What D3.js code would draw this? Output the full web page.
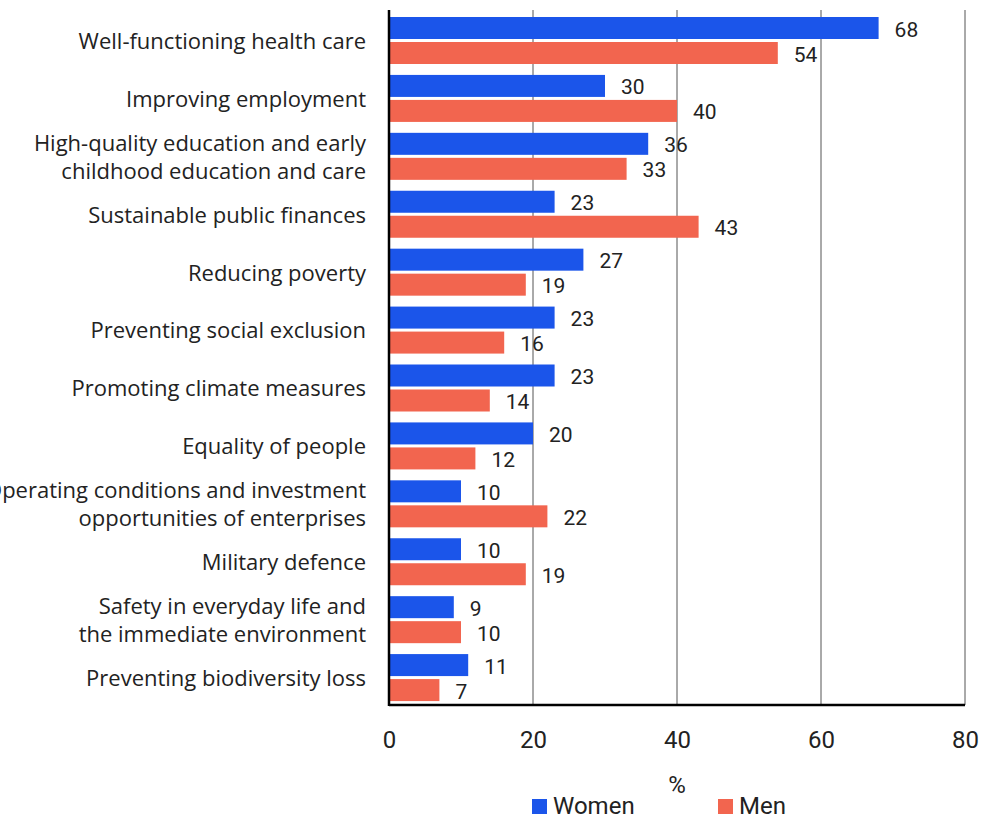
<!DOCTYPE html>
<html><head><meta charset="utf-8">
<script src="https://cdn.jsdelivr.net/npm/d3@7"></script>
<style>body{margin:0;background:#fff}svg{display:block}</style>
</head><body><div id="chart"></div>
<script>
const categories = [
  "Well-functioning health care",
  "Improving employment",
  "High-quality education and early|childhood education and care",
  "Sustainable public finances",
  "Reducing poverty",
  "Preventing social exclusion",
  "Promoting climate measures",
  "Equality of people",
  "Operating conditions and investment|opportunities of enterprises",
  "Military defence",
  "Safety in everyday life and|the immediate environment",
  "Preventing biodiversity loss"
];
const women = [68, 30, 36, 23, 27, 23, 23, 20, 10, 10, 9, 11];
const men   = [54, 40, 33, 43, 19, 16, 14, 12, 22, 19, 10, 7];
const seriesNames = ["Women", "Men"];
const colors = ["#1b55ea", "#f2654f"];
const xTicks = [0, 20, 40, 60, 80];

const W = 987, H = 820;
const m = {left: 389, right: 22, top: 10, bottom: 115};
const svg = d3.select("#chart").append("svg").attr("width", W).attr("height", H);
const font = "Roboto, 'Noto Sans', sans-serif";
const labelFont = "'Open Sans', Roboto, sans-serif";

const x = d3.scaleLinear().domain([0, 80]).range([m.left, W - m.right]);
const y = d3.scaleBand().domain(categories).range([m.top, H - m.bottom]).paddingInner(0).paddingOuter(0);
const sub = d3.scaleBand().domain(seriesNames).range([7, 54]).paddingInner(0.12).paddingOuter(0);

// gridlines
svg.append("g").selectAll("line").data(xTicks.filter(d => d > 0)).join("line")
  .attr("x1", d => x(d)).attr("x2", d => x(d))
  .attr("y1", m.top).attr("y2", H - m.bottom)
  .attr("stroke", "#555").attr("stroke-width", 1);

// bars
const data = [];
categories.forEach((c, i) => {
  data.push({c, s: "Women", v: women[i], col: colors[0]});
  data.push({c, s: "Men", v: men[i], col: colors[1]});
});
svg.append("g").selectAll("rect").data(data).join("rect")
  .attr("x", x(0)).attr("y", d => y(d.c) + sub(d.s))
  .attr("width", d => x(d.v) - x(0)).attr("height", sub.bandwidth())
  .attr("fill", d => d.col);

// value labels
svg.append("g").selectAll("text").data(data).join("text")
  .attr("x", d => x(d.v) + 16).attr("y", d => y(d.c) + sub(d.s) + sub.bandwidth() / 2 + 1)
  .attr("dy", "0.36em").attr("font-family", font).attr("font-size", 21).attr("fill", "#222")
  .text(d => d.v);

// category labels
const cl = svg.append("g").selectAll("text").data(categories).join("text")
  .attr("x", m.left - 23).attr("text-anchor", "end")
  .attr("font-family", labelFont).attr("font-size", 22).attr("fill", "#222");
cl.each(function(d) {
  const lines = d.split("|");
  const cy = y(d) + y.bandwidth() / 2 + 2;
  const t = d3.select(this);
  lines.forEach((ln, k) => {
    t.append("tspan").attr("x", m.left - 23)
      .attr("y", cy + (k - (lines.length - 1) / 2) * 28)
      .attr("dy", "0.36em").text(ln);
  });
});

// axes
const xAxis = d3.axisBottom(x).tickValues(xTicks).tickSize(0).tickPadding(26);
const ax = svg.append("g").attr("transform", `translate(0,${H - m.bottom})`).call(xAxis);
ax.select(".domain").remove();
ax.selectAll("text").attr("font-family", font).attr("font-size", 24).attr("fill", "#222");
svg.append("line").attr("x1", x(0)).attr("x2", x(80)).attr("y1", H - m.bottom).attr("y2", H - m.bottom)
  .attr("stroke", "#000").attr("stroke-width", 2.5);
svg.append("line").attr("x1", x(0)).attr("x2", x(0)).attr("y1", m.top).attr("y2", H - m.bottom + 1)
  .attr("stroke", "#000").attr("stroke-width", 2.5);

svg.append("text").attr("x", x(40)).attr("y", 784).attr("dy", "0.36em").attr("text-anchor", "middle")
  .attr("font-family", font).attr("font-size", 24).attr("fill", "#222").text("%");

// legend
const leg = svg.append("g").selectAll("g").data(seriesNames).join("g")
  .attr("transform", (d, i) => `translate(${[532, 718][i]},799)`);
leg.append("rect").attr("width", 15).attr("height", 15).attr("fill", (d, i) => colors[i]);
leg.append("text").attr("x", 21).attr("y", 6).attr("dy", "0.36em")
  .attr("font-family", font).attr("font-size", 24).attr("fill", "#222").text(d => d);
</script></body></html>
